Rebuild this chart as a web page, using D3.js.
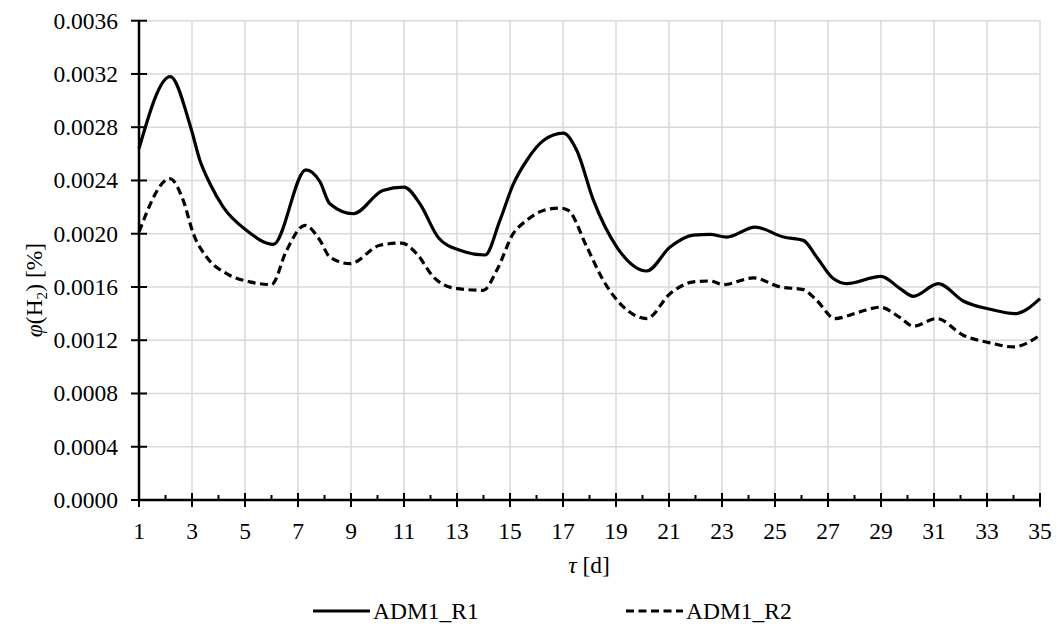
<!DOCTYPE html>
<html><head><meta charset="utf-8">
<script src="https://cdn.jsdelivr.net/npm/d3@7"></script>
<style>
html,body{margin:0;padding:0;background:#fff;}
svg text{font-family:"Liberation Serif","Times New Roman",serif;fill:#000;}
</style></head>
<body>
<svg id="chart" width="1057" height="635"></svg>
<script>
// ---- data ----
const daysR1 = [1.0,2.18,2.95,3.3,3.68,4.18,5.06,6.07,7.3,7.83,8.2,9.09,10.2,11.0,11.6,12.3,13.11,14.06,14.62,15.12,15.63,16.26,17.01,17.52,18.15,19.03,20.16,21.04,21.92,22.55,23.17,24.25,25.32,26.07,26.57,27.2,27.7,29.0,29.72,30.22,31.16,32.1,33.11,34.06,35.0];
const valuesR1 = [0.00264,0.00318,0.00280,0.00255,0.002375,0.00220,0.002025,0.00192,0.00248,0.00239,0.002225,0.00215,0.002325,0.00235,0.002225,0.00197,0.001875,0.00184,0.00210,0.00237,0.00255,0.00270,0.002755,0.002625,0.00225,0.00190,0.00172,0.00190,0.00199,0.001995,0.001975,0.00205,0.001975,0.00195,0.001825,0.001663,0.001625,0.00168,0.001588,0.00153,0.001625,0.001495,0.001433,0.00140,0.001513];
const daysR2 = [1.0,2.17,2.67,3.05,3.55,4.31,5.19,6.0,6.57,7.26,7.83,8.2,8.96,10.09,10.91,11.48,12.11,12.86,13.99,14.5,15.12,15.63,16.26,16.89,17.2,17.9,18.52,19.28,20.16,21.04,21.92,22.55,23.05,24.18,25.19,26.07,26.57,27.26,28.2,28.96,29.72,30.22,31.1,32.1,33.11,33.99,35.0];
const valuesR2 = [0.002013,0.002413,0.00225,0.0020,0.001825,0.00170,0.001638,0.001618,0.001875,0.002063,0.00195,0.001825,0.001775,0.001913,0.00193,0.00185,0.001675,0.001593,0.001575,0.001725,0.0020,0.0021,0.002175,0.002193,0.002175,0.0019,0.00165,0.00145,0.001363,0.00155,0.001638,0.001645,0.001618,0.001668,0.0016,0.00158,0.0015,0.001363,0.001413,0.001448,0.00137,0.001305,0.001363,0.001238,0.00118,0.00115,0.001238];
const seriesNames = ["ADM1_R1","ADM1_R2"];
const xMajorTicks = d3.range(1,36,2);
const xMinorTicks = d3.range(2,35,2);
const yTicks = [0,0.0004,0.0008,0.0012,0.0016,0.0020,0.0024,0.0028,0.0032,0.0036];

// ---- layout ----
const svg = d3.select("#chart");
const x = d3.scaleLinear().domain([1,35]).range([139,1040]);
const y = d3.scaleLinear().domain([0,0.0036]).range([500,20.7]);
const fs = 23.5;

// gridlines
const grid = svg.append("g");
grid.selectAll("line.h").data(yTicks.slice(1)).join("line")
  .attr("x1",x(1)).attr("x2",x(35)).attr("y1",d=>y(d)).attr("y2",d=>y(d))
  .attr("stroke","#d9d9d9").attr("stroke-width",1.5);
grid.selectAll("line.v").data(xMajorTicks.slice(1)).join("line")
  .attr("x1",d=>x(d)).attr("x2",d=>x(d)).attr("y1",y(0)).attr("y2",y(0.0036))
  .attr("stroke","#d9d9d9").attr("stroke-width",1.5);

// lines
const line = d3.line().curve(d3.curveMonotoneX).x(d=>x(d[0])).y(d=>y(d[1]));
const r1 = daysR1.map((d,i)=>[d,valuesR1[i]]);
const r2 = daysR2.map((d,i)=>[d,valuesR2[i]]);
svg.append("path").datum(r1).attr("d",line).attr("fill","none")
  .attr("stroke","#000").attr("stroke-width",3.2).attr("stroke-linejoin","round");
svg.append("path").datum(r2).attr("d",line).attr("fill","none")
  .attr("stroke","#000").attr("stroke-width",3.2).attr("stroke-dasharray","8,4.5");

// axes
const ax = svg.append("g");
ax.append("line").attr("x1",x(1)).attr("x2",x(35)+1).attr("y1",y(0)).attr("y2",y(0))
  .attr("stroke","#000").attr("stroke-width",2.5);
ax.append("line").attr("x1",x(1)).attr("x2",x(1)).attr("y1",y(0)+1).attr("y2",y(0.0036))
  .attr("stroke","#000").attr("stroke-width",2.5);
ax.selectAll("line.xt").data(xMajorTicks).join("line")
  .attr("x1",d=>x(d)).attr("x2",d=>x(d)).attr("y1",y(0)-7).attr("y2",y(0)+7)
  .attr("stroke","#000").attr("stroke-width",2);
ax.selectAll("line.xm").data(xMinorTicks).join("line")
  .attr("x1",d=>x(d)).attr("x2",d=>x(d)).attr("y1",y(0)-5).attr("y2",y(0))
  .attr("stroke","#000").attr("stroke-width",2);
ax.selectAll("line.yt").data(yTicks).join("line")
  .attr("x1",x(1)-8).attr("x2",x(1)+8).attr("y1",d=>y(d)).attr("y2",d=>y(d))
  .attr("stroke","#000").attr("stroke-width",2);

// tick labels
ax.selectAll("text.xl").data(xMajorTicks).join("text")
  .attr("x",d=>x(d)).attr("y",y(0)+39).attr("text-anchor","middle")
  .attr("font-size",fs).text(d=>d);
ax.selectAll("text.yl").data(yTicks).join("text")
  .attr("x",x(1)-21).attr("y",d=>y(d)+8).attr("text-anchor","end")
  .attr("font-size",fs).text(d=>d.toFixed(4));

// axis titles
const xt = svg.append("text").attr("x",589).attr("y",573).attr("text-anchor","middle").attr("font-size",fs);
xt.append("tspan").attr("font-style","italic").text("τ");
xt.append("tspan").text(" [d]");

const yt = svg.append("text").attr("transform","translate(42,290) rotate(-90)")
  .attr("text-anchor","middle").attr("font-size",fs);
yt.append("tspan").attr("font-style","italic").text("φ");
yt.append("tspan").text("(H");
yt.append("tspan").attr("font-size",fs*0.65).attr("dy",5).text("2");
yt.append("tspan").attr("dy",-5).text(") [%]");

// legend
const leg = svg.append("g");
const legX = [313,626];
seriesNames.forEach((n,i)=>{
  leg.append("line").attr("x1",legX[i]).attr("x2",legX[i]+57).attr("y1",611).attr("y2",611)
    .attr("stroke","#000").attr("stroke-width",3.2)
    .attr("stroke-dasharray", i===1 ? "8,4.5" : null);
  leg.append("text").attr("x",legX[i]+60).attr("y",619).attr("font-size",fs).text(n);
});
</script>
</body></html>
